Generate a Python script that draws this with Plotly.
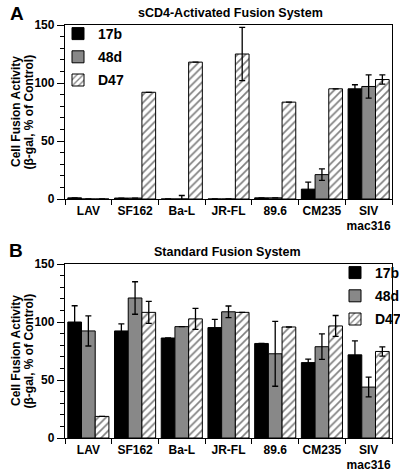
import plotly.graph_objects as go
from plotly.subplots import make_subplots

categories = ["LAV", "SF162", "Ba-L", "JR-FL", "89.6", "CM235", "SIV<br>mac316"]
series_names = ["17b", "48d", "D47"]

# Panel A: sCD4-Activated Fusion System
a_17b = [1.0, 0.8, 0.0, 0.0, 1.0, 8.5, 95.0]
a_17b_err = [0, 0, 0, 0, 0, 6.0, 3.5]
a_48d = [0.0, 0.8, 0.0, 0.0, 1.0, 21.0, 97.0]
a_48d_err = [0, 0, 3.0, 0, 0, 5.0, 10.0]
a_d47 = [0.0, 92.0, 118.0, 125.0, 83.5, 95.0, 103.0]
a_d47_err = [0, 0, 0, 23.0, 0, 0, 4.0]

# Panel B: Standard Fusion System
b_17b = [100.0, 92.3, 86.2, 95.2, 81.5, 65.0, 71.7]
b_17b_err = [14.0, 6.0, 0, 7.0, 0, 3.0, 12.0]
b_48d = [92.3, 120.7, 96.0, 108.8, 72.6, 78.7, 43.9]
b_48d_err = [13.0, 14.0, 0, 5.0, 28.0, 11.0, 8.5]
b_d47 = [18.6, 108.3, 102.7, 108.3, 95.7, 96.6, 74.6]
b_d47_err = [0, 9.5, 9.0, 0, 0, 9.0, 4.0]

y_ticks = [0, 50, 100, 150]
y_title_lines = ["Cell Fusion Activity", "(β-gal, % of Control)"]

FONT = "Liberation Sans"

W, H = 400, 472
L, R, T, B = 65, 8, 25, 34
plot_h = H - T - B


def yp(px):
    return (H - B - px) / plot_h


def xp(px):
    return (px - L) / (W - L - R)


fig = make_subplots(rows=2, cols=1, vertical_spacing=0.0)

styles = [
    dict(marker_color="#000000", pattern=None),
    dict(marker_color="#888888", pattern=None),
    dict(marker_color="#ffffff", pattern=dict(shape="/", fgcolor="#000000", bgcolor="#ffffff", size=5.5, solidity=0.3)),
]

panels = [
    ([a_17b, a_48d, a_d47], [a_17b_err, a_48d_err, a_d47_err], "legend"),
    ([b_17b, b_48d, b_d47], [b_17b_err, b_48d_err, b_d47_err], "legend2"),
]

for row, (vals, errs, leg) in enumerate(panels, start=1):
    for i, name in enumerate(series_names):
        marker = dict(color=styles[i]["marker_color"], line=dict(color="#000000", width=1))
        if styles[i]["pattern"]:
            marker["pattern"] = styles[i]["pattern"]
        fig.add_trace(
            go.Bar(
                x=categories,
                y=vals[i],
                name=name,
                marker=marker,
                error_y=dict(type="data", array=errs[i], visible=True, color="#000000", thickness=1.3, width=3),
                legend=leg,
                legendgroup=f"{leg}{i}",
            ),
            row=row,
            col=1,
        )

tickfont = dict(family=FONT, size=12, color="#000000", weight="bold")

for r in (1, 2):
    fig.update_xaxes(
        type="category",
        tickson="boundaries",
        ticks="outside",
        ticklen=5,
        tickwidth=1.2,
        tickcolor="#000",
        tickangle=0,
        automargin=False,
        showline=True,
        linecolor="#000",
        linewidth=1.3,
        mirror=True,
        showgrid=False,
        tickfont=tickfont,
        row=r,
        col=1,
    )
    fig.update_yaxes(
        range=[0, 150],
        tickvals=y_ticks,
        ticks="outside",
        ticklen=7,
        tickwidth=1.2,
        tickcolor="#000",
        automargin=False,
        minor=dict(dtick=10, tick0=0, ticks="outside", ticklen=3.5, tickwidth=1, tickcolor="#000"),
        showline=True,
        linecolor="#000",
        linewidth=1.3,
        mirror=True,
        showgrid=False,
        zeroline=False,
        tickfont=tickfont,
        row=r,
        col=1,
    )

annotations = [
    dict(text="sCD4-Activated Fusion System", x=xp(230), y=yp(12.5)),
    dict(text="Standard Fusion System", x=xp(227.5), y=yp(251.5)),
]
annotations = [dict(a, font=dict(family=FONT, size=12.5, color="#000", weight="bold")) for a in annotations]
annotations += [
    dict(text="A", x=xp(16.5), y=yp(13.5), font=dict(family=FONT, size=19, color="#000", weight="bold")),
    dict(text="B", x=xp(15.5), y=yp(250.5), font=dict(family=FONT, size=19, color="#000", weight="bold")),
]
for yc in (112, 351):
    for line, xc in zip(y_title_lines, (16, 28.5)):
        annotations.append(dict(text=line, x=xp(xc), y=yp(yc), textangle=-90,
                                font=dict(family=FONT, size=12, color="#000", weight="bold")))
for a in annotations:
    a.update(xref="paper", yref="paper", xanchor="center", yanchor="middle", showarrow=False)

fig.update_layout(
    yaxis=dict(domain=[yp(199), 1.0]),
    yaxis2=dict(domain=[0.0, yp(264)]),
    barmode="group",
    bargap=0.12,
    bargroupgap=0.0,
    width=W,
    height=H,
    margin=dict(l=L, r=R, t=T, b=B, autoexpand=False),
    paper_bgcolor="#ffffff",
    plot_bgcolor="#ffffff",
    font=dict(family=FONT, color="#000"),
    legend=dict(
        x=xp(58), y=yp(18), xanchor="left", yanchor="top",
        font=dict(family=FONT, size=14, color="#000", weight="bold"),
        bgcolor="rgba(0,0,0,0)", tracegroupgap=2, traceorder="grouped",
    ),
    legend2=dict(
        x=xp(335), y=yp(257), xanchor="left", yanchor="top",
        font=dict(family=FONT, size=14, color="#000", weight="bold"),
        bgcolor="rgba(0,0,0,0)", tracegroupgap=2, traceorder="grouped",
    ),
    annotations=annotations,
)

fig.write_html(
    "out.html",
    config={"displayModeBar": False},
    post_script="document.body.style.margin='0';document.body.style.padding='0';",
)
